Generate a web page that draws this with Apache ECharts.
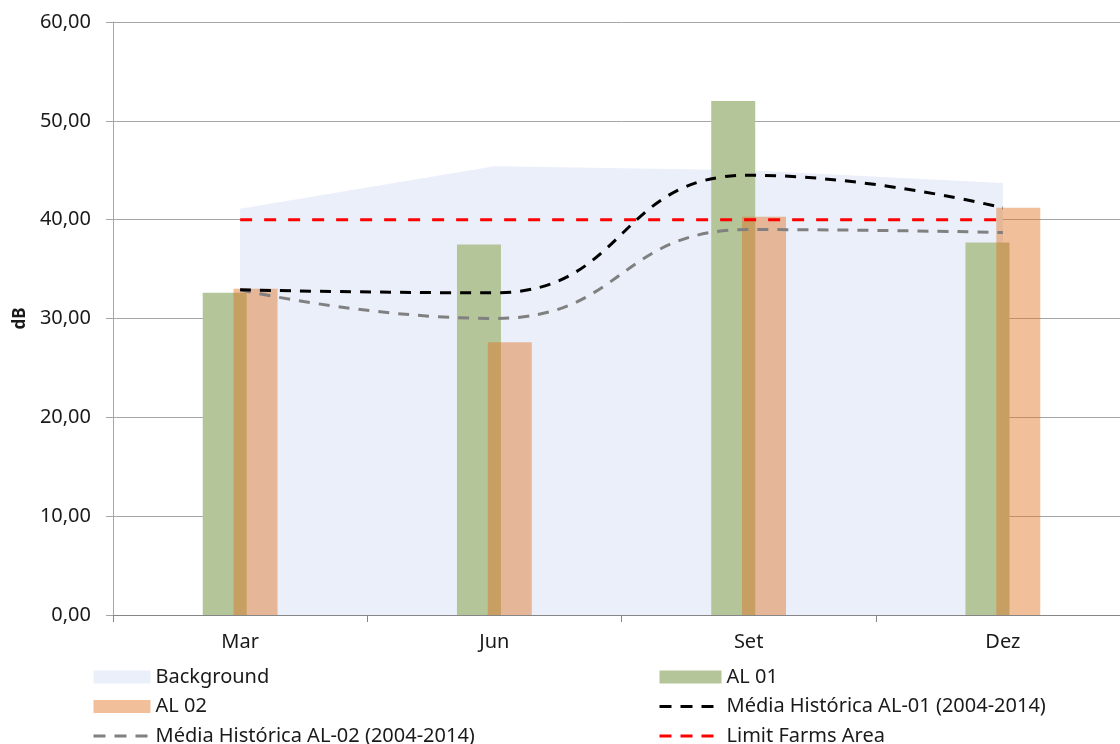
<!DOCTYPE html>
<html>
<head>
<meta charset="utf-8">
<script src="https://cdn.jsdelivr.net/npm/echarts@6/dist/echarts.min.js"></script>
<style>
  html, body { margin: 0; padding: 0; background: #ffffff; overflow: hidden; }
  /* the plot area runs slightly past the right edge of the window */
  #chart { width: 1130px; height: 744px; }
</style>
</head>
<body>
<div id="chart"></div>
<script>
// Quarterly noise readings (dB)
const categories = ['Mar', 'Jun', 'Set', 'Dez'];
const background = [41.1, 45.4, 45.0, 43.7];
const al01 = [32.6, 37.5, 52.0, 37.7];
const al02 = [33.0, 27.6, 40.3, 41.2];
const mediaAL01 = [32.9, 32.6, 44.5, 41.2];
const mediaAL02 = [32.9, 30.0, 39.0, 38.7];
const limitFarms = [40, 40, 40, 40];

const FONT = 'Noto Sans';
const fmt = v => v.toFixed(2).replace('.', ',');

const chart = echarts.init(document.getElementById('chart'), null, { renderer: 'canvas' });

const legendText = { fontFamily: FONT, fontSize: 20, lineHeight: 22, color: '#1a1a1a' };
const hiddenSymbol = { opacity: 0, borderWidth: 0 };
const legendDash = { type: [12, 9], width: 3 };

chart.setOption({
  animation: false,
  backgroundColor: '#ffffff',
  grid: { left: 113, top: 22, right: 0, bottom: 129, containLabel: false },
  xAxis: {
    type: 'category',
    data: categories,
    boundaryGap: true,
    axisLine: { show: true, lineStyle: { color: '#868686', width: 1 } },
    axisTick: { show: true, length: 7, lineStyle: { color: '#868686' } },
    axisLabel: { fontFamily: FONT, fontSize: 20, color: '#1a1a1a', margin: 17 },
    splitLine: { show: false }
  },
  yAxis: {
    type: 'value',
    min: 0,
    max: 60,
    interval: 10,
    name: 'dB',
    nameLocation: 'middle',
    nameGap: 82,
    nameRotate: 90,
    nameTextStyle: { fontFamily: FONT, fontSize: 17, fontWeight: 'bold', color: '#1a1a1a' },
    axisLine: { show: true, lineStyle: { color: '#a6a6a6', width: 1 } },
    axisTick: { show: true, length: 7, lineStyle: { color: '#a6a6a6' } },
    axisLabel: { fontFamily: FONT, fontSize: 20, color: '#1a1a1a', margin: 22, formatter: fmt },
    splitLine: { show: true, lineStyle: { color: '#a6a6a6', width: 1 } }
  },
  legend: [
    {
      left: 87, top: 661, orient: 'vertical', height: 90,
      itemWidth: 57, itemHeight: 13, itemGap: 7.5,
      textStyle: legendText,
      data: [
        { name: 'Background', icon: 'rect', itemStyle: { color: '#eaeff9' } },
        { name: 'AL 02', icon: 'rect' },
        { name: 'Média Histórica AL-02 (2004-2014)', itemStyle: hiddenSymbol, lineStyle: legendDash }
      ]
    },
    {
      left: 653, top: 661, orient: 'vertical', height: 90,
      itemWidth: 62, itemHeight: 13, itemGap: 7.5,
      textStyle: legendText,
      data: [
        { name: 'AL 01', icon: 'rect' },
        { name: 'Média Histórica AL-01 (2004-2014)', itemStyle: hiddenSymbol, lineStyle: legendDash },
        { name: 'Limit Farms Area', itemStyle: hiddenSymbol, lineStyle: legendDash }
      ]
    }
  ],
  series: [
    {
      name: 'Background',
      type: 'line',
      data: background,
      symbol: 'none',
      lineStyle: { width: 0, color: '#eaeff9' },
      itemStyle: { color: '#eaeff9' },
      areaStyle: { color: '#eaeff9', opacity: 1 },
      z: 1
    },
    {
      name: 'AL 01',
      type: 'bar',
      data: al01,
      barWidth: 44,
      barGap: '-30%',
      itemStyle: { color: '#b5c59a' },
      z: 2
    },
    {
      name: 'AL 02',
      type: 'bar',
      data: al02,
      barWidth: 44,
      itemStyle: { color: 'rgba(224,112,30,0.45)' },
      z: 3
    },
    {
      name: 'Média Histórica AL-01 (2004-2014)',
      type: 'line',
      data: mediaAL01,
      smooth: 0.5,
      symbol: 'none',
      lineStyle: { color: '#000000', width: 3, type: [11, 9] },
      itemStyle: { color: '#000000' },
      z: 5
    },
    {
      name: 'Média Histórica AL-02 (2004-2014)',
      type: 'line',
      data: mediaAL02,
      smooth: 0.5,
      symbol: 'none',
      lineStyle: { color: '#808080', width: 3, type: [11, 9] },
      itemStyle: { color: '#808080' },
      z: 4
    },
    {
      name: 'Limit Farms Area',
      type: 'line',
      data: limitFarms,
      symbol: 'none',
      lineStyle: { color: '#ff0000', width: 3, type: [12, 12] },
      itemStyle: { color: '#ff0000' },
      z: 6
    }
  ]
});
</script>
</body>
</html>
